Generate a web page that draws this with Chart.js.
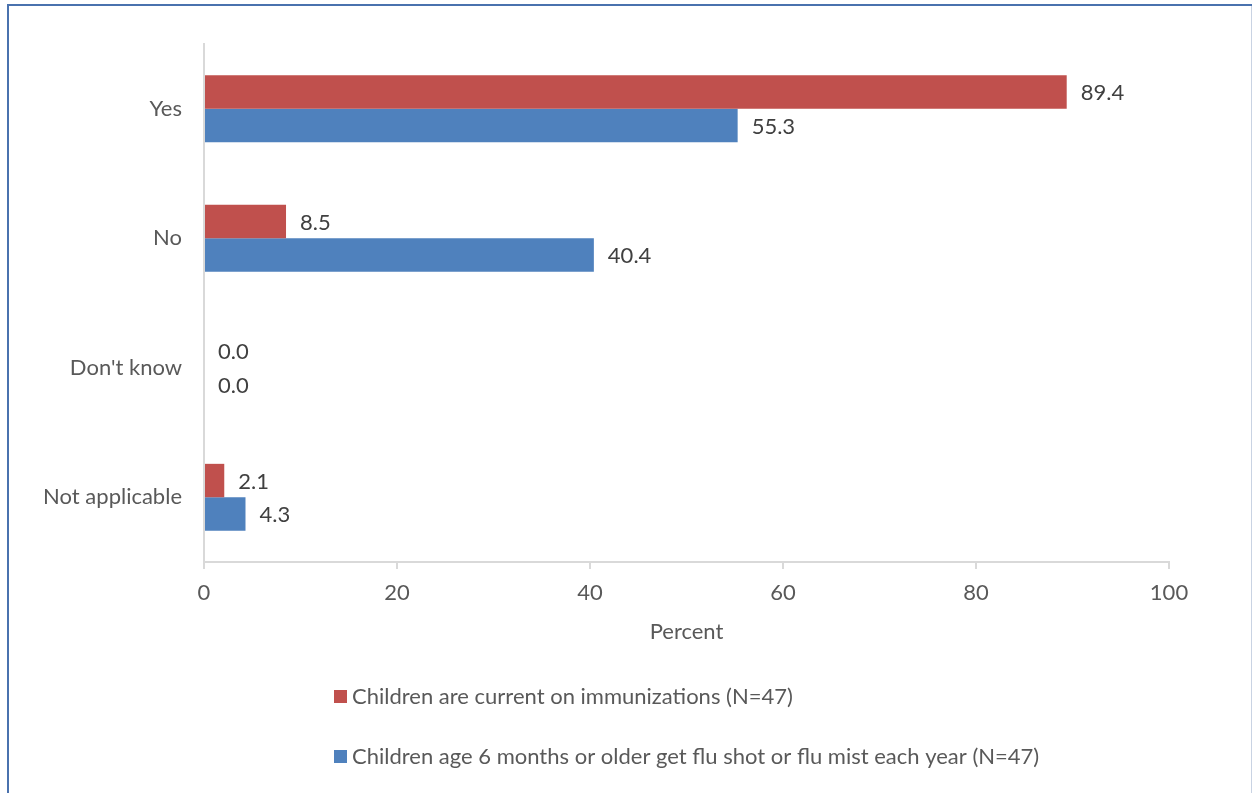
<!DOCTYPE html>
<html>
<head>
<meta charset="utf-8">
<script src="https://cdn.jsdelivr.net/npm/chart.js@4/dist/chart.umd.min.js"></script>
<style>
  html, body { margin: 0; padding: 0; background: #fff; }
  #wrap { width: 1252px; height: 793px; position: relative; }
</style>
</head>
<body>
<div id="wrap"><canvas id="c" width="1252" height="793"></canvas></div>
<script>
const categories = ["Yes", "No", "Don't know", "Not applicable"];
const immunizations = [89.4, 8.5, 0.0, 2.1];
const fluShot = [55.3, 40.4, 0.0, 4.3];
const seriesNames = [
  "Children are current on immunizations (N=47)",
  "Children age 6 months or older get flu shot or flu mist each year (N=47)"
];
const xTicks = [0, 20, 40, 60, 80, 100];

const FONT = "Lato, 'Open Sans', sans-serif";
const FS = 22;
const RED = "#C0504D", BLUE = "#4F81BD";

const framePlugin = {
  id: 'frame',
  beforeDraw(chart) {
    const ctx = chart.ctx;
    ctx.save();
    ctx.fillStyle = '#fff';
    ctx.fillRect(0, 0, chart.width, chart.height);
    ctx.fillStyle = '#4A72AE';
    ctx.fillRect(7, 4, 2, chart.height - 4);
    ctx.fillRect(7, 4, chart.width - 7, 2);
    ctx.fillStyle = '#C9D3E3';
    ctx.fillRect(chart.width - 1, 6, 1, chart.height - 6);
    ctx.restore();
  }
};

const labelPlugin = {
  id: 'vlabels',
  afterDatasetsDraw(chart) {
    const ctx = chart.ctx;
    ctx.save();
    ctx.font = FS + "px " + FONT;
    ctx.fillStyle = '#404040';
    ctx.textBaseline = 'middle';
    ctx.textAlign = 'left';
    chart.data.datasets.forEach((ds, i) => {
      const meta = chart.getDatasetMeta(i);
      meta.data.forEach((bar, j) => {
        ctx.fillText(ds.data[j].toFixed(1), bar.x + 14, bar.y + 1);
      });
    });
    ctx.restore();
  }
};

const legendPlugin = {
  id: 'customLegend',
  afterDraw(chart) {
    const ctx = chart.ctx;
    ctx.save();
    ctx.font = FS + "px " + FONT;
    ctx.textBaseline = 'middle';
    ctx.textAlign = 'left';
    const rows = [697, 757];
    chart.data.datasets.forEach((ds, i) => {
      const y = rows[i];
      ctx.fillStyle = ds.backgroundColor;
      ctx.fillRect(334, y - 7, 13, 13);
      ctx.fillStyle = '#595959';
      ctx.fillText(ds.label, 352, y);
    });
    ctx.restore();
  }
};

new Chart(document.getElementById('c'), {
  type: 'bar',
  data: {
    labels: categories,
    datasets: [
      { label: seriesNames[0], data: immunizations, backgroundColor: RED, borderWidth: 0 },
      { label: seriesNames[1], data: fluShot, backgroundColor: BLUE, borderWidth: 0 }
    ]
  },
  options: {
    indexAxis: 'y',
    responsive: false,
    animation: false,
    devicePixelRatio: 1,
    layout: { padding: { left: 0, right: 83, top: 44, bottom: 144 } },
    datasets: { bar: { categoryPercentage: 0.516, barPercentage: 1.0 } },
    plugins: {
      legend: { display: false },
      tooltip: { enabled: false }
    },
    scales: {
      x: {
        min: 0, max: 100,
        afterBuildTicks(s) { s.ticks = xTicks.map(v => ({ value: v })); },
        afterFit(s) { s.height = 87; },
        grid: { display: true, drawOnChartArea: false, drawTicks: true, tickLength: 7, color: '#D9D9D9', lineWidth: 2 },
        border: { display: true, color: '#D9D9D9', width: 2 },
        ticks: { color: '#595959', font: { family: FONT, size: FS }, padding: 11 },
        title: { display: true, text: 'Percent', color: '#595959', font: { family: FONT, size: FS }, padding: { top: 10 } }
      },
      y: {
        afterFit(s) { s.width = 204; },
        grid: { display: false, drawTicks: false },
        border: { display: true, color: '#D9D9D9', width: 2 },
        ticks: { color: '#595959', font: { family: FONT, size: FS }, padding: 22 }
      }
    }
  },
  plugins: [framePlugin, labelPlugin, legendPlugin]
});
</script>
</body>
</html>
